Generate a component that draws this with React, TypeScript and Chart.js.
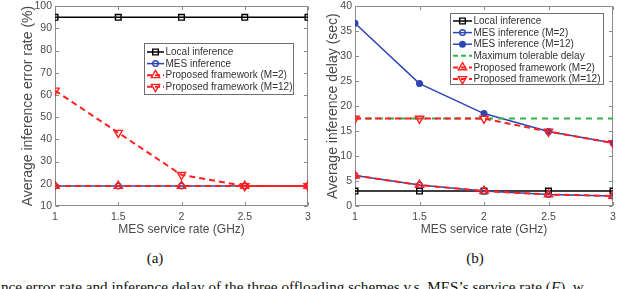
import React, { useEffect, useRef } from 'react';
import { Chart, registerables } from 'chart.js';

Chart.register(...registerables);

// ---------- data ----------
const xValues = [1, 1.5, 2, 2.5, 3];
const xTickLabels = ['1', '1.5', '2', '2.5', '3'];

// (a) average inference error rate (%)
const errLocal = [95, 95, 95, 95, 95];
const errMES = [19, 19, 19, 19, 19];
const errPropM2 = [19, 19, 19, 19, 19];
const errPropM12 = [62, 43, 24, 19, 19];

// (b) average inference delay (sec)
const delayLocal = [3, 3, 3, 3, 3];
const delayMESM2 = [6.1, 4.2, 3.0, 2.3, 2.0];
const delayMESM12 = [36.6, 24.5, 18.5, 14.9, 12.6];
const delayMax = [17.5, 17.5, 17.5, 17.5, 17.5];
const delayPropM2 = [6.1, 4.2, 3.0, 2.3, 2.0];
const delayPropM12 = [17.5, 17.5, 17.5, 14.9, 12.6];

const labelsA = ['Local inference', 'MES inference', 'Proposed framework (M=2)', 'Proposed framework (M=12)'];
const labelsB = [
  'Local inference',
  'MES inference (M=2)',
  'MES inference (M=12)',
  'Maximum tolerable delay',
  'Proposed framework (M=2)',
  'Proposed framework (M=12)',
];

const xTitle = 'MES service rate (GHz)';
const yTitleA = 'Average inference error rate (%)';
const yTitleB = 'Average inference delay (sec)';
const captionA = '(a)';
const captionB = '(b)';

// ---------- styles ----------
const BLACK = '#000000';
const BLUE = '#2d46b4';
const RED = '#ff2020';
const GREEN = '#2fb24a';
const AXIS = '#8c8c8c';
const TEXT = '#4a4a4a';
const SANS = '"Liberation Sans", Arial, sans-serif';

type Marker = 'rect' | 'circle' | 'triangle' | 'triangleDown' | 'none';
interface Style {
  color: string;
  dash: number[];
  marker: Marker;
  fill: boolean;
  width: number;
  radius: number;
}

const sLocal: Style = { color: BLACK, dash: [], marker: 'rect', fill: false, width: 1.5, radius: 4 };
const sMES: Style = { color: BLUE, dash: [], marker: 'circle', fill: false, width: 1.5, radius: 2.8 };
const sMESFilled: Style = { color: BLUE, dash: [], marker: 'circle', fill: true, width: 1.5, radius: 2.8 };
const sMax: Style = { color: GREEN, dash: [6, 5], marker: 'none', fill: false, width: 2, radius: 0 };
const sPropUp: Style = { color: RED, dash: [6, 4], marker: 'triangle', fill: false, width: 2, radius: 4.8 };
const sPropDown: Style = { color: RED, dash: [6, 4], marker: 'triangleDown', fill: false, width: 2, radius: 4.8 };

function makeDataset(label: string, values: number[], st: Style, order: number) {
  return {
    label,
    data: xValues.map((x, i) => ({ x, y: values[i] })),
    borderColor: st.color,
    borderWidth: st.width,
    borderDash: st.dash,
    backgroundColor: st.color,
    pointStyle: st.marker === 'triangleDown' ? 'triangle' : st.marker === 'none' ? 'circle' : st.marker,
    pointRotation: st.marker === 'triangleDown' ? 180 : 0,
    pointRadius: st.marker === 'none' ? 0 : st.radius,
    pointHoverRadius: st.marker === 'none' ? 0 : st.radius,
    pointBorderColor: st.color,
    pointBackgroundColor: st.fill ? st.color : 'rgba(0,0,0,0)',
    pointBorderWidth: 1.4,
    tension: 0,
    fill: false,
    order,
    _st: st,
  };
}

function drawMarker(ctx: CanvasRenderingContext2D, st: Style, x: number, y: number) {
  if (st.marker === 'none') return;
  const r = st.radius;
  ctx.save();
  ctx.setLineDash([]);
  ctx.lineWidth = 1.4;
  ctx.strokeStyle = st.color;
  ctx.fillStyle = st.color;
  ctx.beginPath();
  if (st.marker === 'rect') {
    const s = Math.SQRT1_2 * r;
    ctx.rect(x - s, y - s, 2 * s, 2 * s);
  } else if (st.marker === 'circle') {
    ctx.arc(x, y, r, 0, Math.PI * 2);
  } else {
    const rot = st.marker === 'triangleDown' ? Math.PI : 0;
    for (let k = 0; k < 3; k++) {
      const a = rot + (k * 2 * Math.PI) / 3;
      const px = x + Math.sin(a) * r;
      const py = y - Math.cos(a) * r;
      if (k === 0) ctx.moveTo(px, py);
      else ctx.lineTo(px, py);
    }
    ctx.closePath();
  }
  if (st.fill) ctx.fill();
  ctx.stroke();
  ctx.restore();
}

// box with inward ticks (MATLAB style)
const boxPlugin = {
  id: 'boxAxes',
  beforeDatasetsDraw(chart: any) {
    const { ctx, chartArea } = chart;
    const l = Math.round(chartArea.left) + 0.5;
    const r = Math.round(chartArea.right) - 0.5;
    const t = Math.round(chartArea.top) + 0.5;
    const b = Math.round(chartArea.bottom) - 0.5;
    ctx.save();
    ctx.strokeStyle = AXIS;
    ctx.lineWidth = 1;
    ctx.setLineDash([]);
    ctx.strokeRect(l, t, r - l, b - t);
    const tl = 3.5;
    const xs = chart.scales.x;
    const ys = chart.scales.y;
    ctx.beginPath();
    xs.ticks.forEach((tk: any) => {
      const px = Math.round(xs.getPixelForValue(tk.value)) + 0.5;
      ctx.moveTo(px, b);
      ctx.lineTo(px, b - tl);
      ctx.moveTo(px, t);
      ctx.lineTo(px, t + tl);
    });
    ys.ticks.forEach((tk: any) => {
      const py = Math.round(ys.getPixelForValue(tk.value)) + 0.5;
      ctx.moveTo(l, py);
      ctx.lineTo(l + tl, py);
      ctx.moveTo(r, py);
      ctx.lineTo(r - tl, py);
    });
    ctx.stroke();
    ctx.restore();
  },
};

// legend box drawn inside the axes
const legendPlugin = {
  id: 'boxLegend',
  afterDraw(chart: any, _args: any, opts: any) {
    const { ctx } = chart;
    const [bl, bt, br, bb] = opts.box as number[];
    ctx.save();
    ctx.fillStyle = '#ffffff';
    ctx.fillRect(bl, bt, br - bl, bb - bt);
    ctx.strokeStyle = '#6e6e6e';
    ctx.lineWidth = 1;
    ctx.strokeRect(Math.round(bl) + 0.5, Math.round(bt) + 0.5, br - bl, bb - bt);
    ctx.font = '10px ' + SANS;
    ctx.textBaseline = 'middle';
    ctx.textAlign = 'left';
    chart.data.datasets.forEach((ds: any, i: number) => {
      const st: Style = ds._st;
      const y = opts.firstRow + i * opts.rowStep;
      ctx.save();
      ctx.strokeStyle = st.color;
      ctx.lineWidth = st.width;
      ctx.setLineDash(st.dash.length ? [5, 3] : []);
      ctx.beginPath();
      ctx.moveTo(opts.lineX[0], y);
      ctx.lineTo(opts.lineX[1], y);
      ctx.stroke();
      ctx.restore();
      drawMarker(ctx, st, (opts.lineX[0] + opts.lineX[1]) / 2, y);
      ctx.fillStyle = '#333333';
      ctx.fillText(ds.label, opts.textX, y + 0.5);
    });
    ctx.restore();
  },
};

interface ChartParams {
  datasets: any[];
  yMin: number;
  yMax: number;
  yStep: number;
  yTitle: string;
  yAxisWidth: number;
  yTitlePad: number;
  padRight: number;
  legend: any;
}

function formatX(v: number) {
  const idx = xValues.indexOf(v);
  return idx >= 0 ? xTickLabels[idx] : '';
}

function makeConfig(p: ChartParams): any {
  return {
    type: 'line',
    data: { datasets: p.datasets },
    plugins: [boxPlugin, legendPlugin],
    options: {
      animation: false,
      responsive: false,
      events: [],
      layout: { padding: { top: 4, right: p.padRight, left: 0, bottom: 0 } },
      plugins: {
        legend: { display: false },
        tooltip: { enabled: false },
        boxLegend: p.legend,
      },
      scales: {
        x: {
          type: 'linear',
          min: 1,
          max: 3,
          ticks: {
            stepSize: 0.5,
            color: TEXT,
            font: { family: SANS, size: 10.5 },
            padding: 5,
            maxRotation: 0,
            autoSkip: false,
            callback: (v: number) => formatX(v),
          },
          grid: { display: false, drawTicks: false },
          border: { display: false },
          title: {
            display: true,
            text: xTitle,
            color: TEXT,
            font: { family: SANS, size: 12 },
            padding: { top: 0, bottom: 3 },
          },
          afterFit: (s: any) => {
            s.height = 34;
          },
        },
        y: {
          type: 'linear',
          min: p.yMin,
          max: p.yMax,
          ticks: {
            stepSize: p.yStep,
            color: TEXT,
            font: { family: SANS, size: 10.5 },
            padding: 3,
          },
          grid: { display: false, drawTicks: false },
          border: { display: false },
          title: {
            display: true,
            text: p.yTitle,
            color: TEXT,
            font: { family: SANS, size: 14 },
            padding: { top: p.yTitlePad, bottom: 0 },
          },
          afterFit: (s: any) => {
            s.width = p.yAxisWidth;
            s.paddingTop = 0;
            s.paddingBottom = 0;
          },
        },
      },
    },
  };
}

const configA = () =>
  makeConfig({
    datasets: [
      makeDataset(labelsA[0], errLocal, sLocal, 4),
      makeDataset(labelsA[1], errMES, sMES, 3),
      makeDataset(labelsA[2], errPropM2, sPropUp, 2),
      makeDataset(labelsA[3], errPropM12, sPropDown, 1),
    ],
    yMin: 10,
    yMax: 100,
    yStep: 10,
    yTitle: yTitleA,
    yAxisWidth: 55,
    yTitlePad: 20,
    padRight: 12,
    legend: { box: [144, 43, 293, 94], firstRow: 52, rowStep: 11.6, lineX: [147, 164], textX: 165.5 },
  });

const configB = () =>
  makeConfig({
    datasets: [
      makeDataset(labelsB[0], delayLocal, sLocal, 6),
      makeDataset(labelsB[1], delayMESM2, sMES, 5),
      makeDataset(labelsB[2], delayMESM12, sMESFilled, 4),
      makeDataset(labelsB[3], delayMax, sMax, 3),
      makeDataset(labelsB[4], delayPropM2, sPropUp, 2),
      makeDataset(labelsB[5], delayPropM12, sPropDown, 1),
    ],
    yMin: 0,
    yMax: 40,
    yStep: 5,
    yTitle: yTitleB,
    yAxisWidth: 35,
    yTitlePad: 5,
    padRight: 27,
    legend: { box: [130, 13, 283, 84], firstRow: 21, rowStep: 11.6, lineX: [133, 152], textX: 153.5 },
  });

function LineChart({ make, left }: { make: () => any; left: number }) {
  const ref = useRef<HTMLCanvasElement>(null);
  useEffect(() => {
    const chart = new Chart(ref.current as HTMLCanvasElement, make());
    return () => chart.destroy();
  }, []);
  return (
    <canvas
      ref={ref}
      width={320}
      height={240}
      style={{ position: 'absolute', left, top: 0, width: 320, height: 240 }}
    />
  );
}

export default function App() {
  const serif = '"Liberation Serif", "Times New Roman", serif';
  return (
    <div
      style={{
        position: 'absolute',
        left: 0,
        top: 0,
        width: 640,
        height: 289,
        overflow: 'hidden',
        background: '#ffffff',
      }}
    >
      <LineChart make={configA} left={0} />
      <LineChart make={configB} left={320} />
      <div
        style={{
          position: 'absolute',
          left: 105,
          width: 100,
          top: 249,
          textAlign: 'center',
          fontFamily: serif,
          fontSize: 15,
          lineHeight: '18px',
          color: '#111',
        }}
      >
        {captionA}
      </div>
      <div
        style={{
          position: 'absolute',
          left: 425,
          width: 100,
          top: 249,
          textAlign: 'center',
          fontFamily: serif,
          fontSize: 15,
          lineHeight: '18px',
          color: '#111',
        }}
      >
        {captionB}
      </div>
      <div
        style={{
          position: 'absolute',
          left: 1,
          top: 278,
          whiteSpace: 'nowrap',
          fontFamily: serif,
          fontSize: 15.2,
          lineHeight: '18px',
          color: '#111',
        }}
      >
        nce error rate and inference delay of the three offloading schemes v.s. MES’s service rate (<i>F</i>), w
      </div>
    </div>
  );
}
